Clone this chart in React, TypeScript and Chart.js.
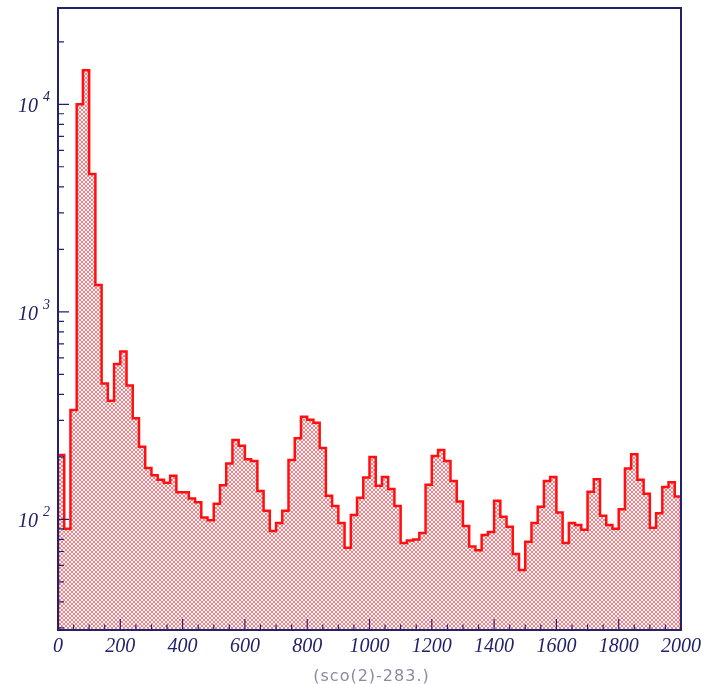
import React, { useEffect, useRef } from "react";
import { Chart, registerables } from "chart.js";

Chart.register(...registerables);

// Histogram of (sco(2)-283.) : 100 bins of width 20 from 0 to 2000
const X_MIN = 0;
const X_MAX = 2000;
const BIN_WIDTH = 20;

const COUNTS = [
  204, 90, 336, 10000, 14600, 4620, 1346, 452, 373, 560,
  643, 441, 307, 224, 177, 163, 155, 150, 162, 135,
  135, 126, 121, 102, 99, 119, 146, 186, 241, 226,
  195, 191, 137, 110, 88, 96, 110, 193, 246, 312,
  302, 292, 221, 130, 116, 96, 73, 105, 127, 159,
  200, 145, 160, 140, 116, 77, 79, 80, 86, 147,
  202, 216, 191, 153, 122, 93, 74, 71, 84, 87,
  123, 103, 92, 68, 57, 78, 96, 115, 153, 160,
  108, 77, 96, 94, 89, 136, 156, 104, 94, 90,
  112, 176, 206, 155, 133, 91, 107, 143, 151, 129,
];

const Y_MIN = 29.3;
const Y_MAX = 29100;

const X_TICK_LABELS = [0, 200, 400, 600, 800, 1000, 1200, 1400, 1600, 1800, 2000];
const X_MINOR_STEP = 50;
const Y_DECADE_EXPONENTS = [2, 3, 4];

const X_TITLE = "(sco(2)-283.)";

const AXIS_COLOR = "#22226a";
const LINE_COLOR = "#ff1010";
const HATCH_COLOR = "#f28088";

// Cross-hatch fill: one pixel-wide diagonals in both directions on a 4px tile
function makeHatch(): CanvasPattern | string {
  const size = 4;
  const tile = document.createElement("canvas");
  tile.width = size;
  tile.height = size;
  const c = tile.getContext("2d");
  if (!c) return "rgba(255,0,0,0.3)";
  c.fillStyle = "#fff6f6";
  c.fillRect(0, 0, size, size);
  c.fillStyle = HATCH_COLOR;
  for (let i = 0; i < size; i++) {
    c.fillRect(i, i, 1, 1);
    c.fillRect(size - 1 - i, i, 1, 1);
  }
  const p = c.createPattern(tile, "repeat");
  return p || "rgba(255,0,0,0.3)";
}

const framePlugin = {
  id: "rootFrame",
  afterDatasetsDraw(chart: any) {
    const { ctx, chartArea } = chart;
    const xs = chart.scales.x;
    const ys = chart.scales.y;
    const { left, right, top, bottom } = chartArea;
    ctx.save();

    // frame
    ctx.strokeStyle = AXIS_COLOR;
    ctx.lineWidth = 2;
    ctx.strokeRect(left, top, right - left, bottom - top);

    // x ticks (drawn inward)
    ctx.lineWidth = 1.2;
    ctx.beginPath();
    for (let v = X_MIN; v <= X_MAX; v += X_MINOR_STEP) {
      const px = xs.getPixelForValue(v);
      const major = X_TICK_LABELS.includes(v);
      ctx.moveTo(px, bottom);
      ctx.lineTo(px, bottom - (major ? 11 : 5.5));
    }
    // y ticks (drawn inward)
    const eMin = Math.floor(Math.log10(Y_MIN));
    const eMax = Math.floor(Math.log10(Y_MAX));
    for (let e = eMin; e <= eMax; e++) {
      for (let m = 1; m <= 9; m++) {
        const v = m * Math.pow(10, e);
        if (v < Y_MIN || v > Y_MAX) continue;
        const py = ys.getPixelForValue(v);
        ctx.moveTo(left, py);
        ctx.lineTo(left + (m === 1 ? 11 : 6), py);
      }
    }
    ctx.stroke();

    // x tick labels
    ctx.fillStyle = AXIS_COLOR;
    ctx.font = 'italic 20px "Liberation Serif", "DejaVu Serif", serif';
    ctx.textAlign = "center";
    ctx.textBaseline = "alphabetic";
    for (const v of X_TICK_LABELS) {
      ctx.fillText(String(v), xs.getPixelForValue(v), bottom + 22);
    }

    // y tick labels: 10^n
    for (const e of Y_DECADE_EXPONENTS) {
      const py = ys.getPixelForValue(Math.pow(10, e));
      ctx.font = 'italic 20px "Liberation Serif", "DejaVu Serif", serif';
      ctx.textAlign = "right";
      ctx.fillText("10", 38, py + 8);
      ctx.font = 'italic 14px "Liberation Serif", "DejaVu Serif", serif';
      ctx.textAlign = "left";
      ctx.fillText(String(e), 43, py - 3);
    }

    // x axis title
    ctx.fillStyle = "#8a8aa6";
    ctx.font = '16px "DejaVu Sans", sans-serif';
    ctx.textAlign = "center";
    (ctx as any).letterSpacing = "1px";
    ctx.fillText(X_TITLE, (left + right) / 2 + 2, bottom + 51);

    ctx.restore();
  },
};

export default function App() {
  const canvasRef = useRef<HTMLCanvasElement | null>(null);

  useEffect(() => {
    const canvas = canvasRef.current;
    if (!canvas) return;

    const points: { x: number; y: number }[] = [{ x: X_MIN, y: Y_MIN }];
    COUNTS.forEach((c, i) => points.push({ x: X_MIN + i * BIN_WIDTH, y: c }));
    points.push({ x: X_MAX, y: COUNTS[COUNTS.length - 1] });
    points.push({ x: X_MAX, y: Y_MIN });

    const chart = new Chart(canvas, {
      type: "line",
      data: {
        datasets: [
          {
            data: points,
            stepped: true,
            borderColor: LINE_COLOR,
            borderWidth: 2.5,
            borderJoinStyle: "miter",
            backgroundColor: makeHatch(),
            fill: "start",
            pointRadius: 0,
            tension: 0,
          },
        ],
      },
      options: {
        animation: false,
        responsive: false,
        maintainAspectRatio: false,
        layout: { padding: { left: 58, right: 33, top: 8, bottom: 54 } },
        scales: {
          x: { type: "linear", min: X_MIN, max: X_MAX, display: false },
          y: { type: "logarithmic", min: Y_MIN, max: Y_MAX, display: false },
        },
        plugins: {
          legend: { display: false },
          tooltip: { enabled: false },
        },
      },
      plugins: [framePlugin],
    });

    return () => chart.destroy();
  }, []);

  return (
    <div style={{ position: "fixed", left: 0, top: 0, width: 714, height: 684, background: "#fff" }}>
      <canvas ref={canvasRef} width={714} height={684} style={{ width: 714, height: 684 }} />
    </div>
  );
}
